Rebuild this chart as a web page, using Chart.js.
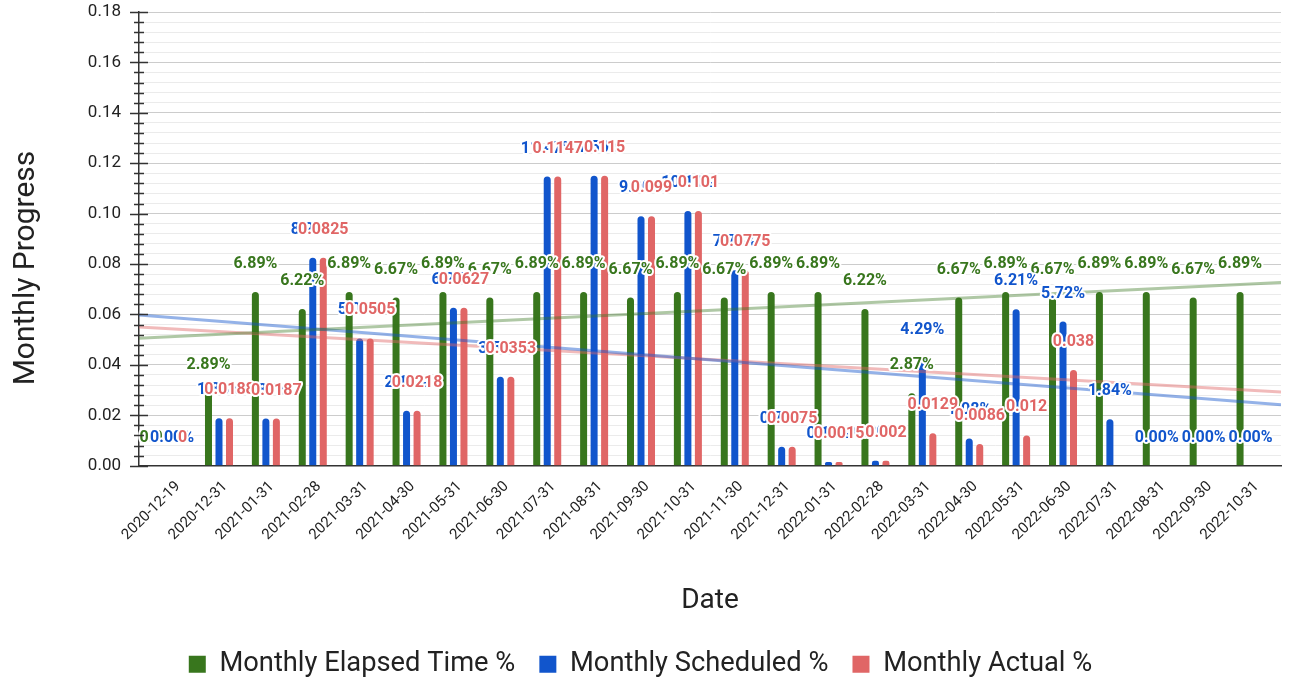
<!DOCTYPE html>
<html>
<head>
<meta charset="utf-8">
<title>Monthly Progress</title>
<script src="https://cdn.jsdelivr.net/npm/chart.js@4.4.0/dist/chart.umd.min.js"></script>
<style>
  html, body { margin: 0; padding: 0; background: #fff; }
</style>
</head>
<body>
<canvas id="chart" width="1291" height="681"></canvas>
<script>
// categories
const dates = [
  '2020-12-19', '2020-12-31', '2021-01-31', '2021-02-28', '2021-03-31', '2021-04-30',
  '2021-05-31', '2021-06-30', '2021-07-31', '2021-08-31', '2021-09-30', '2021-10-31',
  '2021-11-30', '2021-12-31', '2022-01-31', '2022-02-28', '2022-03-31', '2022-04-30',
  '2022-05-31', '2022-06-30', '2022-07-31', '2022-08-31', '2022-09-30', '2022-10-31'
];

// series (fractions, 0.0689 = 6.89%)
const elapsed = [
  0, 0.0289, 0.0689, 0.0622, 0.0689, 0.0667,
  0.0689, 0.0667, 0.0689, 0.0689, 0.0667, 0.0689,
  0.0667, 0.0689, 0.0689, 0.0622, 0.0287, 0.0667,
  0.0689, 0.0667, 0.0689, 0.0689, 0.0667, 0.0689
];
const scheduled = [
  0, 0.0188, 0.0187, 0.0825, 0.0505, 0.0218,
  0.0627, 0.0353, 0.1147, 0.115, 0.099, 0.101,
  0.0775, 0.0075, 0.0015, 0.002, 0.0429, 0.0108,
  0.0621, 0.0572, 0.0184, 0, 0, 0
];
const actual = [
  0, 0.0188, 0.0187, 0.0825, 0.0505, 0.0218,
  0.0627, 0.0353, 0.1147, 0.115, 0.099, 0.101,
  0.0775, 0.0075, 0.0015, 0.002, 0.0129, 0.0086,
  0.012, 0.038, null, null, null, null
];

// trendline values at the left and right edge of the plot
const elapsedTrend = [0.0506, 0.0727];
const scheduledTrend = [0.0598, 0.0242];
const actualTrend = [0.0550, 0.0292];

const yMax = 0.18;
const yStep = 0.004;   // minor gridline step, every 5th is labelled

// x range in category units (categories sit a bit inside the plot)
const xMin = -0.706;
const xMax = 23.649;

const GREEN = '#38761d', BLUE = '#1155cc', RED = '#e06666';

const toPoints = arr => arr.map((v, i) => ({ x: i, y: v }));
const trend = vals => [{ x: xMin, y: vals[0] }, { x: xMax, y: vals[1] }];

const barOpts = {
  borderRadius: 4,
  borderSkipped: 'start',
  categoryPercentage: 0.672,
  barPercentage: 0.667
};

// value labels above the bars, white halo like the original
const barLabels = {
  id: 'barLabels',
  afterDatasetsDraw(chart) {
    const ctx = chart.ctx;
    ctx.save();
    ctx.font = 'bold 16px Roboto';
    ctx.textAlign = 'center';
    ctx.textBaseline = 'middle';
    ctx.lineJoin = 'round';
    ctx.lineWidth = 4;
    ctx.strokeStyle = '#fff';
    [0, 1, 2].forEach(di => {
      const ds = chart.data.datasets[di];
      chart.getDatasetMeta(di).data.forEach((bar, i) => {
        const v = ds.data[i].y;
        if (v === null) return;
        const txt = di < 2 ? (v * 100).toFixed(2) + '%' : String(v);
        const y = bar.y - 28;
        ctx.strokeText(txt, bar.x, y);
        ctx.fillStyle = ds.backgroundColor;
        ctx.fillText(txt, bar.x, y);
      });
    });
    ctx.restore();
  }
};

// tick marks crossing the y axis + axis titles
const axisExtras = {
  id: 'axisExtras',
  afterDraw(chart) {
    const ctx = chart.ctx;
    const ys = chart.scales.y;
    const area = chart.chartArea;
    ctx.save();
    ctx.strokeStyle = '#333';
    ctx.lineWidth = 1.5;
    ctx.beginPath();
    ys.ticks.forEach((t, i) => {
      const py = Math.round(ys.getPixelForValue(t.value)) + 0.5;
      const len = i % 5 === 0 ? 9 : 5;
      ctx.moveTo(area.left - len, py);
      ctx.lineTo(area.left + len, py);
    });
    ctx.stroke();

    ctx.fillStyle = '#222';
    ctx.textAlign = 'center';
    ctx.textBaseline = 'alphabetic';
    ctx.font = '28px Roboto';
    ctx.fillText('Date', (area.left + area.right) / 2, 608);

    ctx.font = '30px Roboto';
    ctx.translate(34, 268);
    ctx.rotate(-Math.PI / 2);
    ctx.fillText('Monthly Progress', 0, 0);
    ctx.restore();
  }
};

new Chart(document.getElementById('chart'), {
  type: 'bar',
  data: {
    datasets: [
      Object.assign({ label: 'Monthly Elapsed Time %', data: toPoints(elapsed), backgroundColor: GREEN }, barOpts),
      Object.assign({ label: 'Monthly Scheduled %', data: toPoints(scheduled), backgroundColor: BLUE }, barOpts),
      Object.assign({ label: 'Monthly Actual %', data: toPoints(actual), backgroundColor: RED }, barOpts),
      { type: 'line', label: 'trend1', data: trend(elapsedTrend), borderColor: 'rgba(56,118,29,0.4)', borderWidth: 3, pointRadius: 0, order: -1 },
      { type: 'line', label: 'trend2', data: trend(scheduledTrend), borderColor: 'rgba(17,85,204,0.45)', borderWidth: 3, pointRadius: 0, order: -1 },
      { type: 'line', label: 'trend3', data: trend(actualTrend), borderColor: 'rgba(224,102,102,0.45)', borderWidth: 3, pointRadius: 0, order: -1 }
    ]
  },
  options: {
    responsive: false,
    animation: false,
    devicePixelRatio: 1,
    layout: { padding: { top: 12, right: 10, bottom: -7, left: 0 } },
    font: { family: 'Roboto' },
    scales: {
      x: {
        type: 'linear',
        min: xMin,
        max: xMax,
        offset: false,
        grid: { display: false, drawTicks: false },
        border: { color: '#333', width: 1.5 },
        afterBuildTicks: s => { s.ticks = dates.map((d, i) => ({ value: i })); },
        afterFit: s => { s.height = 161; },
        ticks: {
          autoSkip: false,
          minRotation: 45,
          maxRotation: 45,
          labelOffset: 6,
          padding: 12,
          color: '#222',
          font: { family: 'Roboto', size: 15 },
          callback: v => dates[v]
        }
      },
      y: {
        min: 0,
        max: yMax,
        grid: {
          drawTicks: true,
          tickLength: 18,
          tickColor: 'rgba(0,0,0,0)',
          color: c => c.index % 5 === 0 ? '#cccccc' : '#ebebeb'
        },
        border: { color: '#333', width: 1.5 },
        afterFit: s => { s.width = 139; },
        ticks: {
          stepSize: yStep,
          autoSkip: false,
          padding: 0,
          color: '#222',
          font: { family: 'Roboto', size: 17 },
          callback: (v, i) => i % 5 === 0 ? v.toFixed(2) : ''
        }
      }
    },
    plugins: {
      legend: {
        position: 'bottom',
        labels: {
          boxWidth: 17,
          boxHeight: 17,
          padding: 24,
          color: '#222',
          font: { family: 'Roboto', size: 27.3 },
          filter: item => item.datasetIndex < 3
        }
      },
      tooltip: { enabled: false }
    }
  },
  plugins: [barLabels, axisExtras]
});
</script>
</body>
</html>
